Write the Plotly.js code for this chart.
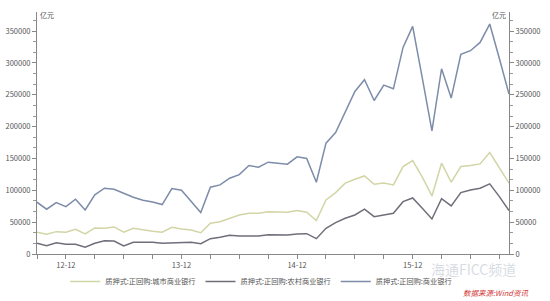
<!DOCTYPE html>
<html>
<head>
<meta charset="utf-8">
<script src="https://cdn.plot.ly/plotly-3.0.1.min.js"></script>
<style>html,body{margin:0;padding:0;background:#fff;}#chart{width:550px;height:301px;}</style>
</head>
<body>
<div id="chart"></div>
<script>
// Months 2012-09 .. 2016-10
const months = [
 "2012-09","2012-10","2012-11","2012-12","2013-01","2013-02","2013-03","2013-04","2013-05","2013-06","2013-07","2013-08",
 "2013-09","2013-10","2013-11","2013-12","2014-01","2014-02","2014-03","2014-04","2014-05","2014-06","2014-07","2014-08",
 "2014-09","2014-10","2014-11","2014-12","2015-01","2015-02","2015-03","2015-04","2015-05","2015-06","2015-07","2015-08",
 "2015-09","2015-10","2015-11","2015-12","2016-01","2016-02","2016-03","2016-04","2016-05","2016-06","2016-07","2016-08",
 "2016-09","2016-10"
];
const cityBanks = [
 34100,31000,35100,34100,38800,31400,40900,40400,42500,34100,40400,37700,
 35700,34100,42000,39300,37700,33500,48300,50800,56100,61300,64000,64000,
 66500,66300,65500,68100,65500,52400,84900,96400,111200,117400,122600,109600,
 111600,108500,137300,146700,120600,91200,142600,112700,137300,138900,141500,159300,
 135700,111200
];
const ruralBanks = [
 16800,13100,17800,15200,15200,10500,16800,20900,20400,12600,18400,18400,
 18400,16800,17300,17800,18400,16200,24100,26300,29400,28300,28300,28300,
 30300,30300,29900,31400,31900,24100,40400,49200,56100,61300,70300,58600,
 61800,64000,82200,88000,71800,55000,86900,75500,96400,100600,103300,110100,
 90100,68100
];
const commercialBanks = [
 81300,70300,80700,74400,86000,69200,92800,103300,101700,94800,89100,84400,
 81800,77600,102700,100100,82900,65000,104900,108500,119000,124700,138900,136300,
 144200,142900,141000,152500,149900,112700,174000,190700,223300,255200,273600,241000,
 265200,259400,324400,357400,276000,193400,290900,244800,313400,319200,332200,361100,
 307100,251100
];
const seriesNames = ["质押式:正回购:城市商业银行","质押式:正回购:农村商业银行","质押式:正回购:商业银行"];
const tickMonths = ["2012-09","2012-12","2013-03","2013-06","2013-09","2013-12","2014-03","2014-06","2014-09","2014-12",
 "2015-03","2015-06","2015-09","2015-12","2016-03","2016-06","2016-09"];
const tickLabels = tickMonths.map(m => m.endsWith("-12") ? m.slice(2) : "");

const fam = "Noto Sans CJK SC, Noto Sans, sans-serif";
const font = {family: fam, size: 7.5, color: "#555"};
const traces = [
 {x: months, y: cityBanks, name: seriesNames[0], type: "scatter", mode: "lines", line: {color: "#d2d5a6", width: 1.5}},
 {x: months, y: ruralBanks, name: seriesNames[1], type: "scatter", mode: "lines", line: {color: "#6f6f7a", width: 1.5}},
 {x: months, y: commercialBanks, name: seriesNames[2], type: "scatter", mode: "lines", line: {color: "#7d8ca8", width: 1.5}},
 {x: months, y: commercialBanks, yaxis: "y2", type: "scatter", mode: "lines", line: {width: 0}, opacity: 0, showlegend: false, hoverinfo: "skip"}
];
const yCommon = {
 range: [0, 380000], tickmode: "linear", tick0: 0, dtick: 50000, showgrid: false, zeroline: false,
 showline: true, linecolor: "#888", linewidth: 1, ticks: "outside", ticklen: 4, tickcolor: "#888",
 tickfont: font, tickformat: "d", fixedrange: true, automargin: false,
 minor: {dtick: 50000/3, tick0: 0, ticks: "outside", ticklen: 3, tickcolor: "#999", showgrid: false}
};
const layout = {
 width: 550, height: 301,
 margin: {l: 37, r: 41, t: 12, b: 47, autoexpand: false},
 paper_bgcolor: "#fff", plot_bgcolor: "#fff",
 showlegend: true,
 legend: {orientation: "h", x: 0.475, xanchor: "center", xref: "container", y: 0.065, yanchor: "middle", yref: "container",
  bgcolor: "rgba(0,0,0,0)", font: {family: fam, size: 7.2, color: "#555"}, itemwidth: 30, tracegroupgap: 0},
 xaxis: {
  type: "category", range: [0, months.length - 1], tickmode: "array", tickvals: tickMonths, ticktext: tickLabels,
  showgrid: false, zeroline: false, showline: true, linecolor: "#888", ticks: "outside", ticklen: 4, tickcolor: "#888",
  tickfont: font, tickangle: 0, automargin: false
 },
 yaxis: Object.assign({}, yCommon, {side: "left"}),
 yaxis2: Object.assign({}, yCommon, {side: "right", overlaying: "y", anchor: "x"}),
 annotations: [
  {text: "亿元", xref: "paper", yref: "paper", x: 0, y: 1, xanchor: "left", yanchor: "bottom", showarrow: false, font: {family: fam, size: 7, color: "#555"}, yshift: -10, xshift: 1},
  {text: "亿元", xref: "paper", yref: "paper", x: 1, y: 1, xanchor: "right", yanchor: "bottom", showarrow: false, font: {family: fam, size: 7, color: "#555"}, yshift: -10, xshift: -1},
  {text: "海通FICC频道", xref: "paper", yref: "paper", x: 0.925, y: -0.062, xanchor: "center", yanchor: "middle", showarrow: false, font: {family: fam, size: 14, color: "rgba(180,190,200,0.55)"}},
  {text: "<i>数据来源:Wind资讯</i>", xref: "paper", yref: "paper", x: 1.044, y: -0.161, xanchor: "right", yanchor: "middle", showarrow: false, font: {family: fam, size: 7.5, color: "#d23a3a"}}
 ]
};
Plotly.newPlot("chart", traces, layout, {displayModeBar: false, staticPlot: true});
</script>
</body>
</html>
